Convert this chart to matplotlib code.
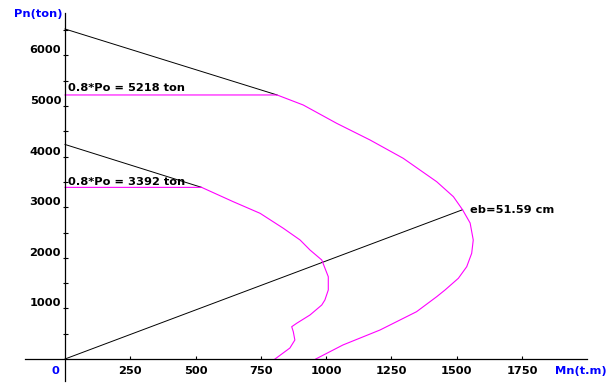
"""P-M interaction diagram for two column sections, drawn in the old screen style."""

from __future__ import annotations

import matplotlib

matplotlib.use("Agg")
import matplotlib.pyplot as plt
from matplotlib.axes import Axes

# outer (larger) section: capacity curve, M in t.m, P in ton
outer_m = [0, 812, 912, 1040, 1168, 1295, 1359, 1423, 1487, 1522, 1551, 1563, 1557,
           1538, 1506, 1455, 1423, 1346, 1206, 1064, 960]
outer_p = [5218, 5218, 5020, 4658, 4328, 3966, 3735, 3504, 3208, 2950, 2688, 2352, 2089,
           1824, 1595, 1364, 1231, 935, 573, 277, 0]

# inner (smaller) section
inner_m = [0, 523, 644, 747, 836, 900, 938, 983, 1008, 1008, 995, 983, 938,
           887, 868, 874, 880, 861, 804]
inner_p = [3392, 3392, 3109, 2879, 2583, 2352, 2154, 1957, 1626, 1364, 1166, 1067, 870,
           706, 638, 540, 375, 217, 0]

# Po lines (black) and balanced-point ray
outer_po_m = [0, 812]
outer_po_p = [6522, 5218]
inner_po_m = [0, 523]
inner_po_p = [4240, 3392]
balance_m = [0, 1522]
balance_p = [0, 2950]

po_labels = ["0.8*Po = 5218 ton", "0.8*Po = 3392 ton"]
po_values = [5218, 3392]
eb_label = "eb=51.59 cm"

x_ticks = [250, 500, 750, 1000, 1250, 1500, 1750]
y_ticks = [500, 1000, 1500, 2000, 2500, 3000, 3500, 4000, 4500, 5000, 5500, 6000, 6500]
y_labels = [1000, 2000, 3000, 4000, 5000, 6000]

MAGENTA = "#ff00ff"
BLUE = "#0000ff"
FS = 8.2


def draw_axes_frame(ax: Axes) -> None:
    ax.set_xlim(-248.85, 2094.2)
    ax.set_ylim(-474.3, 7094.9)
    for side in ("top", "right"):
        ax.spines[side].set_visible(False)
    ax.spines["left"].set_position(("data", 0))
    ax.spines["bottom"].set_position(("data", 0))
    ax.spines["bottom"].set_bounds(-153, 1998)
    ax.spines["left"].set_bounds(-435, 6838)
    for s in ("left", "bottom"):
        ax.spines[s].set_linewidth(0.9)
    ax.set_xticks(x_ticks)
    ax.set_yticks(y_ticks)
    ax.tick_params(axis="x", direction="in", length=2.2, width=0.8,
                   labelbottom=False)
    ax.tick_params(axis="y", direction="inout", length=3.6, width=0.8,
                   labelleft=False)

    for v in x_ticks:
        ax.text(v, -296, str(v), ha="center", va="baseline", fontsize=FS,
                fontweight="bold")
    for v in y_labels:
        ax.text(-15, v + 40, str(v), ha="right", va="baseline", fontsize=FS,
                fontweight="bold")
    ax.text(-38, -296, "0", ha="center", va="baseline", fontsize=FS,
            fontweight="bold", color=BLUE)
    ax.text(2072, -296, "Mn(t.m)", ha="right", va="baseline", fontsize=FS,
            fontweight="bold", color=BLUE)
    ax.text(-195, 6759, "Pn(ton)", ha="left", va="baseline", fontsize=FS,
            fontweight="bold", color=BLUE)


def draw_interaction(ax: Axes) -> None:
    ax.plot(outer_po_m, outer_po_p, color="black", lw=0.7)
    ax.plot(inner_po_m, inner_po_p, color="black", lw=0.7)
    ax.plot(balance_m, balance_p, color="black", lw=0.7)
    ax.plot(outer_m, outer_p, color=MAGENTA, lw=0.8)
    ax.plot(inner_m, inner_p, color=MAGENTA, lw=0.8)

    for label, p, dy in zip(po_labels, po_values, [79, 37]):
        ax.text(12, p + dy, label, ha="left", va="baseline", fontsize=FS,
                fontweight="bold")
    ax.text(1550, 2879, eb_label, ha="left", va="baseline", fontsize=FS,
            fontweight="bold")


fig = plt.figure(figsize=(6.12, 3.83), dpi=100)
ax = fig.add_axes([0, 0, 1, 1])
draw_axes_frame(ax)
draw_interaction(ax)
fig.savefig("out.png", dpi=100, facecolor="white")
